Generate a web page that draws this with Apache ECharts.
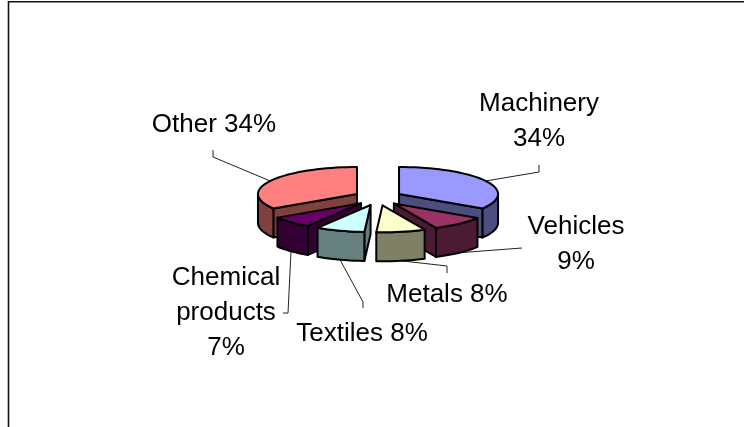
<!DOCTYPE html>
<html>
<head>
<meta charset="utf-8">
<style>html,body{margin:0;padding:0;background:#fff}#c{width:744px;height:427px}</style>
<script src="https://cdn.jsdelivr.net/npm/echarts@6/dist/echarts.min.js"></script>
</head>
<body>
<div id="c"></div>
<script>
// Data
const categories = ['Machinery', 'Vehicles', 'Metals', 'Textiles', 'Chemical products', 'Other'];
const values = [34, 9, 8, 8, 7, 34];
const labelLines = [['Machinery', '34%'], ['Vehicles', '9%'], ['Metals 8%'], ['Textiles 8%'], ['Chemical', 'products', '7%'], ['Other 34%']];
// Styles
const topColors = ['#9999FF', '#993366', '#FFFFCC', '#CCFFFF', '#660066', '#FF8080'];
const sideColors = ['#4D4D80', '#4D1A33', '#808066', '#668080', '#330033', '#804040'];
const depthOrder = [1, 2, 3, 3, 2, 1];
// Layout of the tilted pie and its labels
const pie = { cx: 378, cy: 197.7, rx: 99, ry: 27, depth: 29, explodeX: 24, explodeY: 7.7 };
const labelCenters = [[539, 104], [576, 227], [447, 295], [362, 334], [226, 278], [214, 125]];
const leaderElbows = [[[539, 172], [539, 165]], [[522, 248]], [[447, 266], [447, 273]], [[363, 302], [363, 308]], [[288, 313], [283, 313]], [[213, 157], [213, 150]]];
const attachOnBottom = [false, true, true, true, true, false];
const fontSize = 26, lineGap = 35;

const total = values.reduce((a, b) => a + b, 0);
const rad = d => d * Math.PI / 180;

function arc(apex, a1, a2) {
  const pts = [], n = Math.max(2, Math.ceil(Math.abs(a2 - a1) / 3));
  for (let k = 0; k <= n; k++) {
    const a = rad(a1 + (a2 - a1) * k / n);
    pts.push([apex[0] + pie.rx * Math.sin(a), apex[1] - pie.ry * Math.cos(a)]);
  }
  return pts;
}
const down = p => [p[0], p[1] + pie.depth];

function renderItem(params, api) {
  const i = params.dataIndex;
  const before = values.slice(0, i).reduce((a, b) => a + b, 0);
  const a1 = before / total * 360;
  const a2 = (before + api.value(0)) / total * 360;
  const mid = rad((a1 + a2) / 2);
  const apex = [pie.cx + pie.explodeX * Math.sin(mid), pie.cy - pie.explodeY * Math.cos(mid)];
  const base = depthOrder[i] * 100;
  const children = [];
  let z = base;
  const poly = (points, fill) => children.push({
    type: 'polygon', z2: z++, silent: true, shape: { points },
    style: { fill, stroke: '#000', lineWidth: 2, lineJoin: 'round' }
  });
  const radial = ang => {
    const c = arc(apex, ang, ang + 1)[0];
    poly([apex, c, down(c), down(apex)], sideColors[i]);
  };
  if (Math.sin(rad(a1)) < -1e-6) radial(a1);
  if (Math.sin(rad(a2)) > 1e-6) radial(a2);
  const w1 = Math.max(a1, 90), w2 = Math.min(a2, 270);
  if (w2 > w1) {
    const t = arc(apex, w1, w2);
    poly(t.concat(t.map(down).reverse()), sideColors[i]);
  }
  poly([apex].concat(arc(apex, a1, a2)), topColors[i]);

  // leader line from the slice rim to the label
  const rim = [apex[0] + pie.rx * Math.sin(mid), apex[1] - pie.ry * Math.cos(mid) + (attachOnBottom[i] ? pie.depth : 0)];
  children.push({
    type: 'polyline', z2: 5, silent: true,
    shape: { points: [rim].concat(leaderElbows[i]) },
    style: { fill: null, stroke: '#222', lineWidth: 1 }
  });
  // label
  const lines = labelLines[i];
  lines.forEach((t, k) => children.push({
    type: 'text', z2: 1000, silent: true,
    style: {
      text: t, x: labelCenters[i][0], y: labelCenters[i][1] + k * lineGap,
      align: 'center', verticalAlign: 'middle', fill: '#000',
      font: fontSize + 'px "Liberation Sans", Arial, sans-serif'
    }
  }));
  return { type: 'group', children };
}

const chart = echarts.init(document.getElementById('c'), null, { renderer: 'canvas' });
chart.setOption({
  animation: false,
  backgroundColor: '#fff',
  graphic: [
    { type: 'polyline', silent: true, shape: { points: [[8.5, 430], [8.5, 1.8], [750, 1.8]] }, style: { fill: null, stroke: '#111', lineWidth: 1.6 } }
  ],
  series: [{
    type: 'custom',
    coordinateSystem: 'none',
    renderItem,
    data: categories.map((name, i) => ({ name, value: values[i] }))
  }]
});
</script>
</body>
</html>
